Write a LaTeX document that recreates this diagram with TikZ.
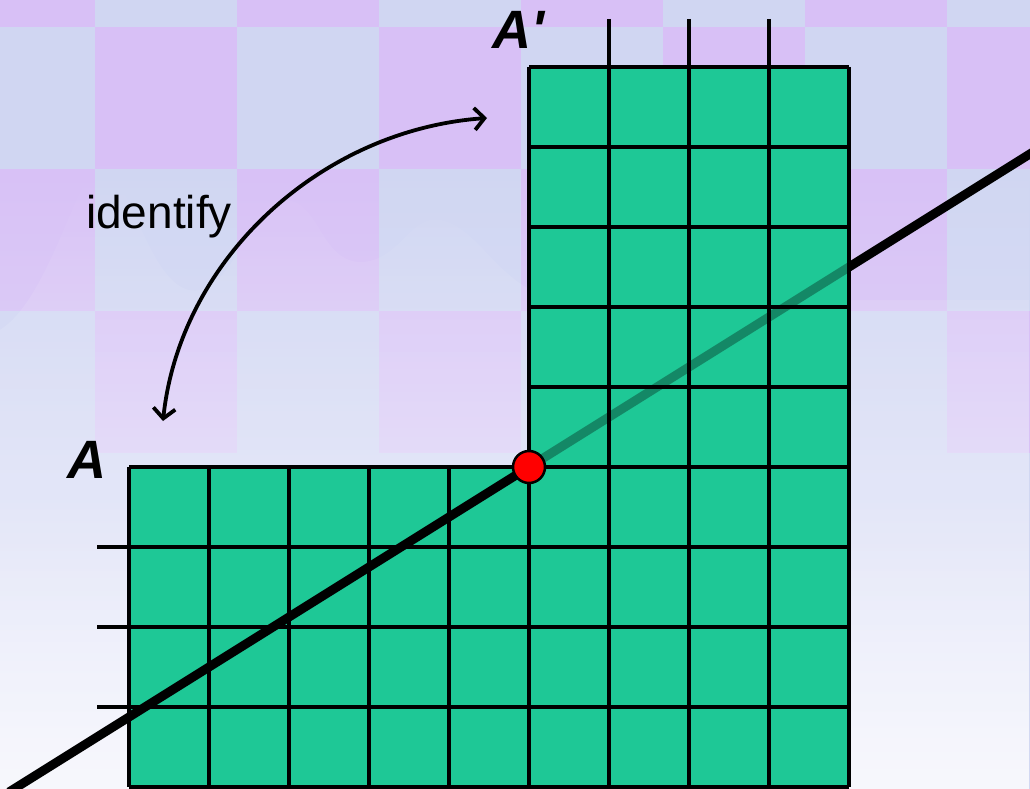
\documentclass[tikz,border=0pt]{standalone}
\usepackage{fontspec}
\setmainfont{Liberation Sans}
\usetikzlibrary{arrows.meta,fadings}
\definecolor{cellgreen}{RGB}{30,200,150}
\definecolor{checkpink}{RGB}{216,192,246}
\definecolor{checklight}{RGB}{208,214,242}
\definecolor{haze}{RGB}{228,230,250}

\begin{document}
\begin{tikzpicture}[x=1pt,y=-1pt,>={Straight Barb[length=10pt,width=22pt]},
  gridline/.style={black,line width=3.8pt},
  axisline/.style={black,line width=9pt},
  every node/.style={inner sep=0pt}]
  \useasboundingbox (0,0) rectangle (1030,789);
  \clip (0,0) rectangle (1030,789);

  % slide background
  \fill[checklight] (0,0) rectangle (1030,789);
  \foreach \r in {0,...,3}
    \foreach \c in {0,...,7}{
      \pgfmathtruncatemacro{\odd}{mod(\r+\c,2)}
      \ifnum\odd=0
        \fill[checkpink] (-47+142*\c,-115+142*\r) rectangle ++(142,142);
      \fi}
  \fill[haze,path fading=north] (0,150) rectangle (1030,789);
  \fill[white,opacity=0.45,path fading=north] (0,789) -- (0,330)
    .. controls (50,300) and (80,165) .. (100,165)
    .. controls (130,165) and (150,300) .. (200,290)
    .. controls (240,280) and (250,200) .. (285,200)
    .. controls (320,200) and (320,260) .. (360,262)
    .. controls (400,262) and (410,215) .. (440,220)
    .. controls (480,226) and (500,290) .. (560,300)
    -- (1030,300) -- (1030,789) -- cycle;
  \fill[white,opacity=0.5,path fading=north] (0,500) rectangle (1030,789);

  % points of the picture
  \coordinate (lineS) at (9,792);
  \coordinate (lineE) at (1049,142);
  \coordinate (pivotpt) at (529,467);

  % lower block
  \fill[cellgreen] (129,467) rectangle (849,787);
  \foreach \x in {129,209,...,849}
    \draw[gridline] (\x,467) -- (\x,787);
  \foreach \y in {467,547,...,787}
    \draw[gridline] (129,\y) -- (849,\y);
  \foreach \y in {547,627,707}
    \draw[gridline] (97,\y) -- (129,\y);

  \draw[axisline] (lineS) -- (pivotpt);
  \draw[axisline] (pivotpt) -- (lineE);

  % upper block, the line shows through it
  \fill[cellgreen] (529,67) rectangle (849,467);
  \begin{scope}
    \clip (529,67) rectangle (849,467);
    \draw[axisline,draw=cellgreen!55!black,opacity=0.7] (pivotpt) -- (lineE);
  \end{scope}
  \foreach \x in {529,609,...,849}
    \draw[gridline] (\x,67) -- (\x,467);
  \foreach \y in {67,147,...,467}
    \draw[gridline] (529,\y) -- (849,\y);
  \foreach \x in {609,689,769}
    \draw[gridline] (\x,19) -- (\x,67);

  \node[circle,fill=red,draw=black,line width=2.5pt,minimum size=32pt] (pivot) at (pivotpt) {};

  \node[anchor=base,font=\fontsize{54}{54}\selectfont\bfseries\itshape] (labA) at (87,478) {A};
  \node[anchor=base,font=\fontsize{54}{54}\selectfont\bfseries\itshape] (labAp) at (518,49) {A\textquotesingle};
  \node[anchor=base west,font=\fontsize{46}{46}\selectfont] (ident) at (86,228) {identify};

  \coordinate (arrS) at (163,421);
  \coordinate (arrE) at (487,118);
  \draw[<->,line width=3.8pt] (arrS) .. controls (180,260) and (320,130) .. (arrE);
\end{tikzpicture}
\end{document}
